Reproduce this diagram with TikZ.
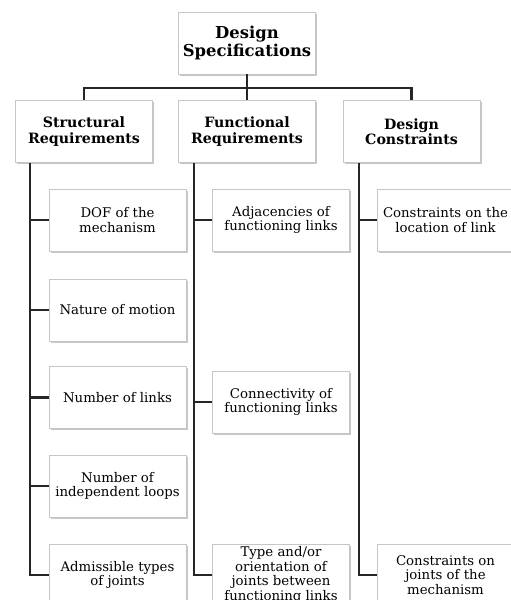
\documentclass[tikz,border=0pt]{standalone}
\usepackage{fontspec}
\setmainfont{DejaVu Serif}
\usetikzlibrary{shadows}
\begin{document}
\begin{tikzpicture}[x=1pt,y=-1pt,
  box/.style={draw=gray!45, line width=0.8pt, fill=white, align=center,
    minimum width=137pt, minimum height=62pt, inner sep=1pt,
    drop shadow={shadow xshift=1.5pt, shadow yshift=-1.8pt, fill=gray!55, opacity=0.8}},
  topbox/.style={box, font=\bfseries\fontsize{16.4}{17.5}\selectfont},
  midbox/.style={box, font=\bfseries\fontsize{14.2}{15.5}\selectfont},
  leafbox/.style={box, font=\fontsize{13.3}{14.6}\selectfont},
  wire/.style={draw=black!85, line width=2.2pt}]
\useasboundingbox (0,0) rectangle (511,600);
\clip (0,0) rectangle (511,600);
\fill[white] (0,0) rectangle (511,600);

\node[topbox] (top) at (247,43) {Design\\Specifications};

\node[midbox] (sr) at (84,131.5) {Structural\\Requirements};
\node[midbox] (fr) at (247,131.5) {Functional\\Requirements};
\node[midbox] (dc) at (411.5,131.5) {Design\\Constraints};

\coordinate (bus) at (0,88);
\coordinate (t1) at (30,575);
\coordinate (t2) at (194,575);
\coordinate (t3) at (359,575);

\draw[wire] (top.south) -- (top.south |- bus);
\draw[wire] (sr.north) -- (sr.north |- bus) -- (dc.north |- bus) -- (dc.north);
\draw[wire] (fr.north |- bus) -- (fr.north);

\node[leafbox] (s1) at (117.5,220) {DOF of the\\mechanism};
\node[leafbox] (s2) at (117.5,310) {Nature of motion};
\node[leafbox] (s3) at (117.5,397.5) {Number of links};
\node[leafbox] (s4) at (117.5,486) {Number of\\independent loops};
\node[leafbox] (s5) at (117.5,575) {Admissible types\\of joints};

\node[leafbox] (f1) at (281,220) {Adjacencies of\\functioning links};
\node[leafbox] (f2) at (281,402) {Connectivity of\\functioning links};
\node[leafbox] (f3) at (281,575) {Type and/or\\orientation of\\joints between\\functioning links};

\node[leafbox] (d1) at (445.5,220) {Constraints on the\\location of link};
\node[leafbox] (d2) at (445.5,575) {Constraints on\\joints of the\\mechanism};

\draw[wire] (sr.south -| t1) -- (t1) -- (s5.west);
\draw[wire] (fr.south -| t2) -- (t2) -- (f3.west);
\draw[wire] (dc.south -| t3) -- (t3) -- (d2.west);
\foreach \n in {s1,s2,s3,s4} \draw[wire] (\n.west -| t1) -- (\n.west);
\foreach \n in {f1,f2} \draw[wire] (\n.west -| t2) -- (\n.west);
\draw[wire] (d1.west -| t3) -- (d1.west);
\end{tikzpicture}
\end{document}
